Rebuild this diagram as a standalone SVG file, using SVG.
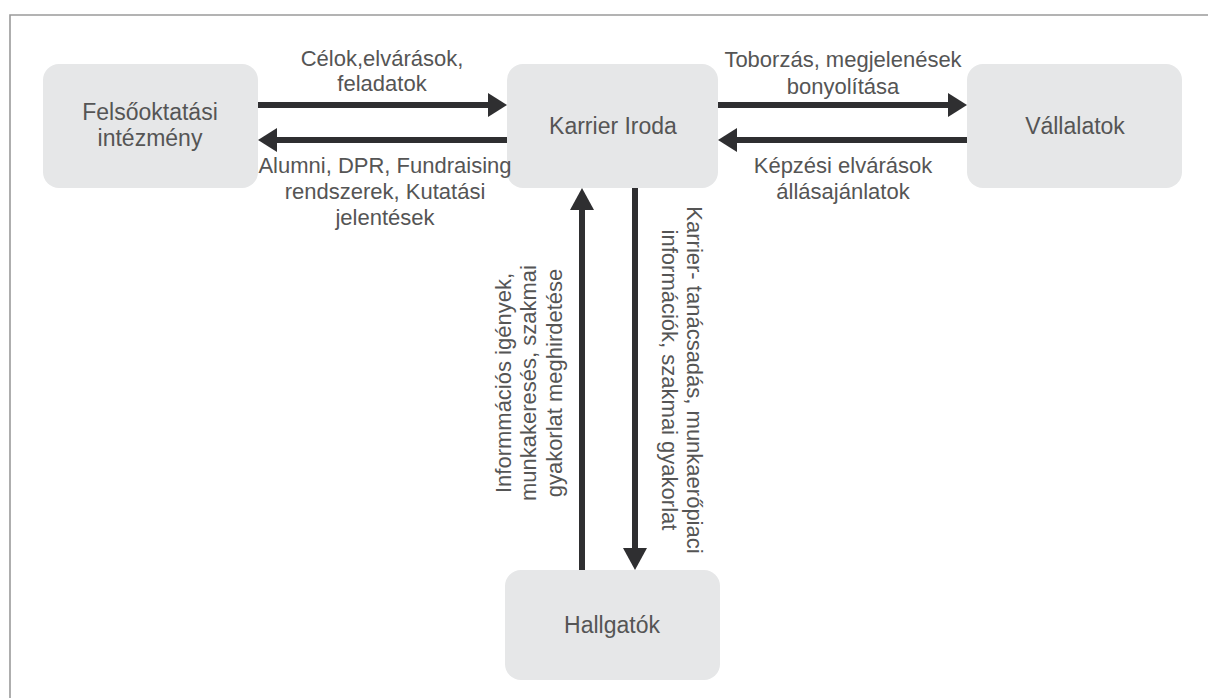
<svg xmlns="http://www.w3.org/2000/svg" width="1208" height="698" viewBox="0 0 1208 698">
<defs>
<style>
.node rect{fill:#e6e7e8}
text{font-family:"Liberation Sans",Arial,sans-serif;font-size:22px;fill:#555;text-anchor:middle}
.node text{font-size:23px}
.conn line{stroke:#2f2f31;stroke-width:6}
.head{fill:#2f2f31}
.frame{stroke:#9a9a9a;stroke-width:1.6;fill:none}
</style>
</defs>
<rect width="1208" height="698" fill="#fff"/>
<path class="frame" d="M10,698 V15 H1208"/>

<g id="node-felsooktatasi" class="node">
<rect x="43" y="64" width="215" height="124" rx="16"/>
<text x="150" y="120">Felsőoktatási</text>
<text x="150" y="146">intézmény</text>
</g>
<g id="node-karrier" class="node">
<rect x="507" y="64" width="211" height="124" rx="16"/>
<text x="613" y="134">Karrier Iroda</text>
</g>
<g id="node-vallalatok" class="node">
<rect x="967" y="64" width="215" height="124" rx="16"/>
<text x="1075" y="134">Vállalatok</text>
</g>
<g id="node-hallgatok" class="node">
<rect x="505" y="570" width="215" height="110" rx="16"/>
<text x="612" y="633">Hallgatók</text>
</g>

<g id="connectors" class="conn">
<line x1="258" y1="105" x2="492" y2="105"/>
<polygon class="head" points="488,93 507,105 488,117"/>
<line x1="507" y1="140" x2="273" y2="140"/>
<polygon class="head" points="277,128 258,140 277,152"/>
<line x1="718" y1="105" x2="952" y2="105"/>
<polygon class="head" points="948,93 967,105 948,117"/>
<line x1="967" y1="140" x2="733" y2="140"/>
<polygon class="head" points="737,128 718,140 737,152"/>
<line x1="582" y1="570" x2="582" y2="203"/>
<polygon class="head" points="570,210 582,188 594,210"/>
<line x1="635" y1="188" x2="635" y2="555"/>
<polygon class="head" points="623,548 635,570 647,548"/>
</g>

<g id="labels">
<text x="382" y="66">Célok,elvárások,</text>
<text x="382" y="91">feladatok</text>
<text x="385" y="173">Alumni, DPR, Fundraising</text>
<text x="385" y="199">rendszerek, Kutatási</text>
<text x="385" y="225">jelentések</text>
<text x="843" y="67">Toborzás, megjelenések</text>
<text x="843" y="94">bonyolítása</text>
<text x="843" y="173">Képzési elvárások</text>
<text x="843" y="199">állásajánlatok</text>
<g transform="translate(0,383) rotate(-90)">
<text x="0" y="511">Informmációs igények,</text>
<text x="0" y="536">munkakeresés, szakmai</text>
<text x="0" y="562">gyakorlat meghirdetése</text>
</g>
<g transform="translate(0,380) rotate(90)">
<text x="0" y="-687">Karrier- tanácsadás, munkaerőpiaci</text>
<text x="0" y="-662">információk, szakmai gyakorlat</text>
</g>
</g>
</svg>
